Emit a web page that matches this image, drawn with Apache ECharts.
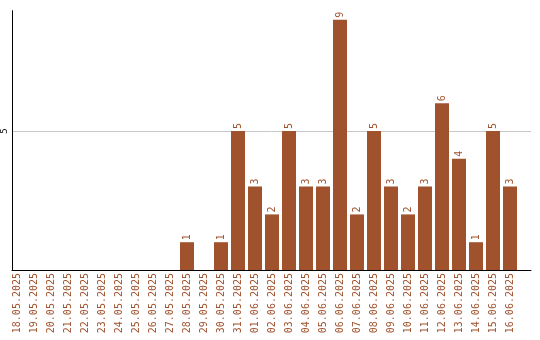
<!DOCTYPE html>
<html><head><meta charset="utf-8">
<script src="https://cdn.jsdelivr.net/npm/echarts@6/dist/echarts.min.js"></script>
<style>html,body{margin:0;padding:0;background:#fff}#c{width:540px;height:340px}</style>
</head><body><div id="c"></div>
<script>
const categories = ["18.05.2025","19.05.2025","20.05.2025","21.05.2025","22.05.2025","23.05.2025","24.05.2025","25.05.2025","26.05.2025","27.05.2025","28.05.2025","29.05.2025","30.05.2025","31.05.2025","01.06.2025","02.06.2025","03.06.2025","04.06.2025","05.06.2025","06.06.2025","07.06.2025","08.06.2025","09.06.2025","10.06.2025","11.06.2025","12.06.2025","13.06.2025","14.06.2025","15.06.2025","16.06.2025"];
const values = [0,0,0,0,0,0,0,0,0,0,1,0,1,5,3,2,5,3,3,9,2,5,3,2,3,6,4,1,5,3];
const yTicks = [5];

const mono = 'DejaVu Sans Mono';
const brown = '#A0522D';
const chart = echarts.init(document.getElementById('c'));
chart.setOption({
  animation: false,
  backgroundColor: '#fff',
  grid: [
    {left: 8.5, width: 510, top: 10.7, bottom: 70},
    {left: 11, right: 9, top: 10.7, bottom: 70}
  ],
  xAxis: [
    {type: 'category', gridIndex: 0, data: categories, boundaryGap: true,
     axisLine: {show: false}, axisTick: {show: false}, splitLine: {show: false},
     axisLabel: {interval: 0, rotate: 90, margin: 3, color: brown, fontFamily: mono, fontSize: 10}},
    {type: 'value', gridIndex: 1, min: 0, max: 1,
     axisLine: {show: true, onZero: false, lineStyle: {color: '#000', width: 1}},
     axisTick: {show: false}, axisLabel: {show: false}, splitLine: {show: false}}
  ],
  yAxis: [
    {type: 'value', gridIndex: 0, min: 0, max: 9.33, interval: 5,
     axisLine: {show: false}, axisTick: {show: false}, axisLabel: {show: false}, splitLine: {show: false}},
    {type: 'value', gridIndex: 1, min: 0, max: 9.33, interval: 5,
     axisLine: {show: true, lineStyle: {color: '#000', width: 1}},
     axisTick: {show: false},
     axisLabel: {show: true, rotate: 90, margin: 3, color: '#000', fontFamily: mono, fontSize: 9,
       showMinLabel: false, showMaxLabel: false,
       formatter: v => yTicks.includes(v) ? String(v) : ''},
     splitLine: {show: true, showMinLine: false, showMaxLine: false, lineStyle: {color: '#c8c8c8', width: 1}}}
  ],
  series: [{
    type: 'bar', xAxisIndex: 0, yAxisIndex: 0, data: values, barWidth: 14,
    itemStyle: {color: brown},
    label: {show: true, position: 'top', rotate: 90, align: 'left', verticalAlign: 'middle', distance: 2,
      color: brown, fontFamily: mono, fontSize: 10,
      formatter: p => p.value > 0 ? String(p.value) : ''}
  }]
});
</script></body></html>
